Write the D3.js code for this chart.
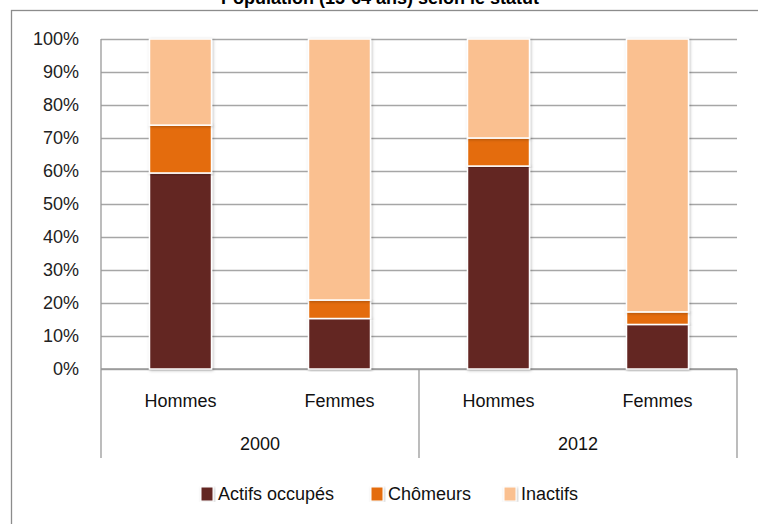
<!DOCTYPE html>
<html>
<head>
<meta charset="utf-8">
<script src="https://cdn.jsdelivr.net/npm/d3@7"></script>
<style>
  body { margin: 0; background: #fff; }
  svg { font-family: "Liberation Sans", Arial, sans-serif; }
</style>
</head>
<body>
<svg id="chart"></svg>
<script>
// values (% of population)
var years = ["2000", "2012"],
    sexes = ["Hommes", "Femmes"],
    series = ["Actifs occupés", "Chômeurs", "Inactifs"],
    actifs = [59.4, 15.3, 61.5, 13.5],
    chomeurs = [14.5, 5.6, 8.5, 3.8],
    inactifs = [26.1, 79.1, 30.0, 82.7],
    yTicks = [0, 10, 20, 30, 40, 50, 60, 70, 80, 90, 100]

var colors = ["#632523", "#e46c0a", "#fac090"]

var width = 758, height = 524,
    plotLeft = 101, plotRight = 737, plotTop = 39, plotBottom = 369

var svg = d3.select("#chart")
    .attr("width", width)
    .attr("height", height)

// drop shadow for bars
var defs = svg.append("defs")
var f = defs.append("filter").attr("id", "shadow")
    .attr("x", "-20%").attr("y", "-5%").attr("width", "140%").attr("height", "110%")
f.append("feDropShadow")
    .attr("dx", 1).attr("dy", 1).attr("stdDeviation", 1.5)
    .attr("flood-color", "#000").attr("flood-opacity", 0.25)

// outer frame
svg.append("rect")
    .attr("x", 11.5).attr("y", 10.5)
    .attr("width", 800).attr("height", 600)
    .style("fill", "none").style("stroke", "#8c8c8c").style("stroke-width", 1.3)

// title (cut off at top in the reference)
svg.append("text")
    .attr("x", 380).attr("y", 4)
    .attr("text-anchor", "middle")
    .style("font-weight", "bold").style("font-size", "18px")
    .text("Population (15-64 ans) selon le statut")

var rows = d3.range(actifs.length).map(function (i) {
    return {
        key: years[Math.floor(i / 2)] + "-" + sexes[i % 2],
        sexe: sexes[i % 2],
        "Actifs occupés": actifs[i],
        "Chômeurs": chomeurs[i],
        "Inactifs": inactifs[i]
    }
})

var x = d3.scaleBand()
    .domain(rows.map(d => d.key))
    .range([plotLeft, plotRight])
    .paddingInner(0.61)
    .paddingOuter(0.305)

var y = d3.scaleLinear().domain([0, 100]).range([plotBottom, plotTop])

// gridlines
svg.append("g")
    .attr("transform", "translate(" + plotLeft + ",0)")
    .call(d3.axisLeft(y).tickValues(yTicks).tickSize(-(plotRight - plotLeft)).tickFormat(""))
    .call(g => g.select(".domain").remove())
    .selectAll("line")
    .style("stroke", "#a6a6a6").style("stroke-width", 1.3)

// y labels
svg.append("g")
    .attr("transform", "translate(" + plotLeft + ",0)")
    .call(d3.axisLeft(y).tickValues(yTicks).tickSize(0).tickPadding(22).tickFormat(d => d + "%"))
    .call(g => g.select(".domain").remove())
    .selectAll("text")
    .style("font-size", "18px").style("fill", "#222")

// axis lines and category separators
var axisColor = "#999"
svg.append("line")
    .attr("x1", plotLeft).attr("x2", plotLeft).attr("y1", plotTop).attr("y2", 458)
    .style("stroke", axisColor).style("stroke-width", 1.3)
svg.append("line")
    .attr("x1", plotLeft).attr("x2", plotRight).attr("y1", plotBottom).attr("y2", plotBottom)
    .style("stroke", axisColor).style("stroke-width", 1.3)
svg.selectAll(".sep")
    .data([1, 2])
    .enter().append("line")
    .attr("x1", i => plotLeft + i * (plotRight - plotLeft) / 2)
    .attr("x2", i => plotLeft + i * (plotRight - plotLeft) / 2)
    .attr("y1", plotBottom).attr("y2", 458)
    .style("stroke", axisColor).style("stroke-width", 1.3)

// stacked bars
var stacked = d3.stack().keys(series)(rows)

svg.append("g").selectAll("g")
    .data(stacked)
    .enter().append("g")
    .style("fill", (d, i) => colors[i])
    .selectAll("rect")
    .data(d => d)
    .enter().append("rect")
    .attr("x", d => x(d.data.key))
    .attr("width", x.bandwidth())
    .attr("y", d => y(d[1]))
    .attr("height", d => y(d[0]) - y(d[1]))
    .attr("filter", "url(#shadow)")
    .style("stroke", "#fff").style("stroke-width", 1.5)

// category labels
svg.selectAll(".cat")
    .data(rows)
    .enter().append("text")
    .attr("x", d => x(d.key) + x.bandwidth() / 2)
    .attr("y", 407)
    .attr("text-anchor", "middle")
    .style("font-size", "18px").style("fill", "#111")
    .text(d => d.sexe)

svg.selectAll(".year")
    .data(years)
    .enter().append("text")
    .attr("x", (d, i) => plotLeft + (i + 0.5) * (plotRight - plotLeft) / 2)
    .attr("y", 450)
    .attr("text-anchor", "middle")
    .style("font-size", "18px").style("fill", "#111")
    .text(d => d)

// legend
var legendX = [201, 371, 504]
var legend = svg.selectAll(".legend")
    .data(series)
    .enter().append("g")
    .attr("transform", (d, i) => "translate(" + legendX[i] + ",487)")

legend.append("rect")
    .attr("width", 12).attr("height", 14)
    .style("fill", (d, i) => colors[i])
    .style("stroke", "#fff").style("stroke-width", 1)
    .attr("filter", "url(#shadow)")

legend.append("text")
    .attr("x", 17).attr("y", 13)
    .style("font-size", "18px").style("fill", "#111")
    .text(d => d)
</script>
</body>
</html>
